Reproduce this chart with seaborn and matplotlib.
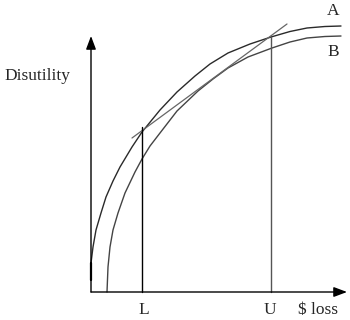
import matplotlib
matplotlib.use("Agg")
import matplotlib.pyplot as plt
import seaborn as sns
import pandas as pd

# Curve A (disutility vs $ loss)
a_loss = [0, 0, 2, 5, 10, 15, 22, 29, 41, 51, 69, 86, 104, 119, 137, 159, 180, 199, 216, 234, 250]
a_dis = [12, 29, 45, 62, 79, 95, 111, 125, 145, 160, 182, 200, 216, 228, 239, 248, 255, 260.5, 264, 265.5, 266]
# Curve B
b_loss = [16, 17, 19, 22, 27, 34, 44, 51, 59, 69, 86, 107, 122, 137, 157, 181, 199, 216, 234, 250]
b_dis = [0, 25, 45, 62, 79, 99, 120, 133, 146, 159, 181, 201, 213, 224, 235, 244, 250, 254, 255.5, 256]
# Chord of A between L and U
chord_loss = [41, 196]
chord_dis = [154, 268]
# Interval markers
L_val, U_val = 50.5, 180
L_top, U_top = 165, 255
tick_labels = ["L", "U"]

sns.set_style("white")
plt.rcParams['font.family'] = ['Liberation Serif', 'DejaVu Serif']

fig = plt.figure(figsize=(3.5, 3.2), dpi=100)
ax = fig.add_axes([0, 0, 1, 1])
ax.set_xlim(-91, 259)
ax.set_ylim(-28, 292)
ax.axis('off')

dfa = pd.DataFrame({"loss": a_loss, "dis": a_dis})
dfb = pd.DataFrame({"loss": b_loss, "dis": b_dis})
dfc = pd.DataFrame({"loss": chord_loss, "dis": chord_dis})
sns.lineplot(data=dfa, x="loss", y="dis", sort=False, ax=ax, color="#2a2a2a", lw=1.0, estimator=None)
sns.lineplot(data=dfb, x="loss", y="dis", sort=False, ax=ax, color="#444444", lw=1.0, estimator=None)
sns.lineplot(data=dfc, x="loss", y="dis", sort=False, ax=ax, color="#666666", lw=0.9, estimator=None)

ax.plot([0, 0], [12, 29], color="black", lw=1.6)
ax.plot([L_val, L_val], [0, L_top], color="black", lw=1.0)
ax.plot([U_val, U_val], [0, U_top], color="#555555", lw=1.0)

# axes with arrows
ax.annotate("", xy=(0, 256), xytext=(0, 0),
            arrowprops=dict(arrowstyle="-|>,head_length=0.8,head_width=0.3", color="black", lw=1.0, shrinkA=0, shrinkB=0))
ax.annotate("", xy=(256, 0), xytext=(0, 0),
            arrowprops=dict(arrowstyle="-|>,head_length=0.8,head_width=0.3", color="black", lw=1.0, shrinkA=0, shrinkB=0))

ax.text(-54, 216, "Disutility", ha="center", va="center", fontsize=12.5)
ax.text(242, 281, "A", ha="center", va="center", fontsize=12.5)
ax.text(242, 240, "B", ha="center", va="center", fontsize=12.5)
ax.text(L_val + 2, -18, tick_labels[0], ha="center", va="center", fontsize=12.5)
ax.text(U_val - 1, -18, tick_labels[1], ha="center", va="center", fontsize=12.5)
ax.text(227, -18, "$ loss", ha="center", va="center", fontsize=12.5)

fig.savefig("out.png", dpi=100)
